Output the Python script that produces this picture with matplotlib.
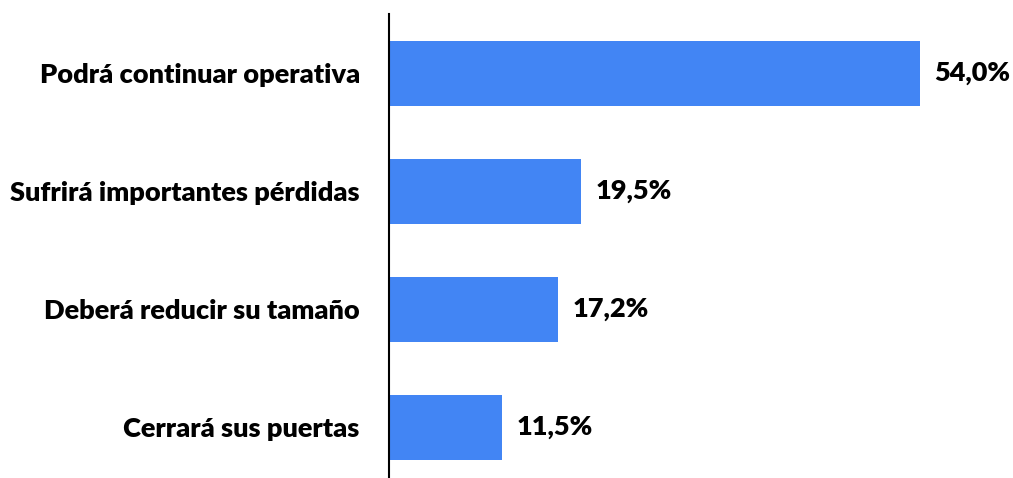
import matplotlib
matplotlib.use("Agg")
import matplotlib.pyplot as plt

categories = ["Podrá continuar operativa", "Sufrirá importantes pérdidas",
              "Deberá reducir su tamaño", "Cerrará sus puertas"]
values = [54.0, 19.5, 17.2, 11.5]
value_labels = ["54,0%", "19,5%", "17,2%", "11,5%"]

W, H = 1013, 478
fig = plt.figure(figsize=(W / 100, H / 100), dpi=100)
ax = fig.add_axes([389 / W, 0, 1 - 389 / W, 1 - 14 / H])

pos = list(range(len(categories)))
ax.barh(pos, values, height=0.55, color="#4285F4", left=0)
ax.set_xlim(0, 63.5)
ax.set_ylim(3.428, -0.504)

for s in ["top", "right", "bottom"]:
    ax.spines[s].set_visible(False)
ax.spines["left"].set_color("black")
ax.spines["left"].set_linewidth(1.5)
ax.set_xticks([])
ax.set_yticks(pos)
ax.set_yticklabels(categories, fontfamily="Lato", fontweight="heavy", fontsize=19.5)
ax.tick_params(axis="y", length=0, pad=21)

for p, v, lab in zip(pos, values, value_labels):
    ax.annotate(lab, (v, p), xytext=(10.5, 0), textcoords="offset points",
                va="center", ha="left", fontfamily="Lato", fontweight="heavy",
                fontsize=19.5)

fig.savefig("out.png", dpi=100)
